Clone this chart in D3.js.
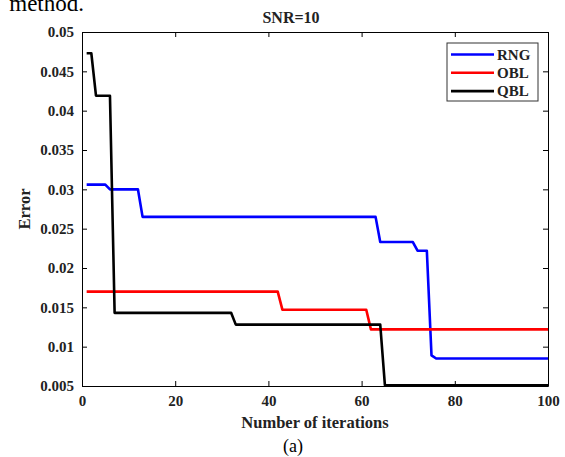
<!DOCTYPE html>
<html>
<head>
<meta charset="utf-8">
<script src="https://cdn.jsdelivr.net/npm/d3@7"></script>
<style>
  body { margin: 0; background: #fff; }
  svg { display: block; }
  svg text { font-family: "Liberation Serif", "Times New Roman", "DejaVu Serif", serif !important; }
</style>
</head>
<body>
<div id="chart"></div>
<script>
// Données : points de changement (itération, erreur)
const seriesNames = ["RNG", "OBL", "QBL"];
const seriesColors = ["#0000ff", "#ff0000", "#000000"];

const rngPoints = [
  [1, 0.0306], [5, 0.0306], [6, 0.0300], [12, 0.0300], [13, 0.0265],
  [63, 0.0265], [64, 0.0233], [71, 0.0233], [72, 0.0222], [74, 0.0222],
  [75, 0.0089], [76, 0.0085], [100, 0.0085]
];
const oblPoints = [
  [1, 0.0170], [42, 0.0170], [43, 0.0147], [61, 0.0147], [62, 0.0122], [100, 0.0122]
];
const qblPoints = [
  [1, 0.0473], [2, 0.0473], [3, 0.0419], [6, 0.0419], [7, 0.0143],
  [32, 0.0143], [33, 0.0128], [64, 0.0128], [65, 0.0051], [100, 0.0051]
];

const xTicks = [0, 20, 40, 60, 80, 100];
const yTicks = [0.005, 0.01, 0.015, 0.02, 0.025, 0.03, 0.035, 0.04, 0.045, 0.05];

const W = 565, H = 457;
const margin = { top: 32, right: 17, bottom: 71, left: 82 };
const width = W - margin.left - margin.right,
      height = H - margin.top - margin.bottom;

const svg = d3.select("#chart").append("svg")
  .attr("width", W).attr("height", H);

// texte du papier, coupé en haut
svg.append("text")
  .attr("x", 84).attr("y", 11)
  .attr("text-anchor", "end")
  .style("font-size", "23px")
  .text("method.");

const g = svg.append("g").attr("transform", `translate(${margin.left},${margin.top})`);

const x = d3.scaleLinear().domain([0, 100]).range([0, width]);
const y = d3.scaleLinear().domain([0.005, 0.05]).range([height, 0]);

// Axes (ticks vers l'intérieur)
const fmtY = d => String(+d.toFixed(3));
const styleTicks = a => {
  a.attr("font-family", null).attr("font-size", null);
  a.selectAll("text").style("font-size", "15px").style("font-weight", "bold");
};
g.append("g").attr("transform", `translate(0,${height})`)
  .call(d3.axisBottom(x).tickValues(xTicks).tickSizeInner(-5).tickSizeOuter(0).tickPadding(9))
  .call(styleTicks);
g.append("g").attr("transform", `translate(0,0)`)
  .call(d3.axisTop(x).tickValues(xTicks).tickSizeInner(-5).tickSizeOuter(0).tickFormat(""));
g.append("g")
  .call(d3.axisLeft(y).tickValues(yTicks).tickSizeInner(-5).tickSizeOuter(0).tickPadding(8).tickFormat(fmtY))
  .call(styleTicks);
g.append("g").attr("transform", `translate(${width},0)`)
  .call(d3.axisRight(y).tickValues(yTicks).tickSizeInner(-5).tickSizeOuter(0).tickFormat(""));

g.selectAll(".domain").attr("stroke", "#000");
g.selectAll(".tick line").attr("stroke", "#000");
g.selectAll(".tick text").attr("fill", "#222");

// Courbes
const line = d3.line().x(d => x(d[0])).y(d => y(d[1]));
const allSeries = [rngPoints, oblPoints, qblPoints];
g.selectAll(".curve")
  .data(allSeries)
  .enter().append("path")
  .attr("class", "curve")
  .attr("d", line)
  .attr("fill", "none")
  .attr("stroke", (d, i) => seriesColors[i])
  .attr("stroke-width", 2.6)
  .attr("stroke-linejoin", "round");

// Titre et étiquettes
svg.append("text")
  .attr("x", 291).attr("y", 23)
  .attr("text-anchor", "middle")
  .style("font-size", "16px").style("font-weight", "bold").attr("fill", "#222")
  .text("SNR=10");

svg.append("text")
  .attr("x", margin.left + width / 2).attr("y", 428)
  .attr("text-anchor", "middle")
  .style("font-size", "16.5px").style("font-weight", "bold").attr("fill", "#222")
  .text("Number of iterations");

svg.append("text")
  .attr("x", 293).attr("y", 452)
  .attr("text-anchor", "middle")
  .style("font-size", "18px")
  .text("(a)");

svg.append("text")
  .attr("transform", `translate(30,${margin.top + height / 2}) rotate(-90)`)
  .attr("text-anchor", "middle")
  .style("font-size", "16.5px").style("font-weight", "bold").attr("fill", "#222")
  .text("Error");

// Légende
const legend = svg.append("g").attr("transform", "translate(447,43)");
legend.append("rect")
  .attr("width", 91).attr("height", 58)
  .attr("fill", "#fff").attr("stroke", "#333").attr("stroke-width", 1);
const rows = legend.selectAll(".row")
  .data(seriesNames)
  .enter().append("g")
  .attr("transform", (d, i) => `translate(0,${11.5 + i * 18.3})`);
rows.append("line")
  .attr("x1", 4).attr("x2", 47)
  .attr("stroke", (d, i) => seriesColors[i])
  .attr("stroke-width", 2.6);
rows.append("text")
  .attr("x", 50).attr("dy", "0.35em")
  .style("font-size", "15px").style("font-weight", "bold").attr("fill", "#222")
  .text(d => d);
</script>
</body>
</html>
